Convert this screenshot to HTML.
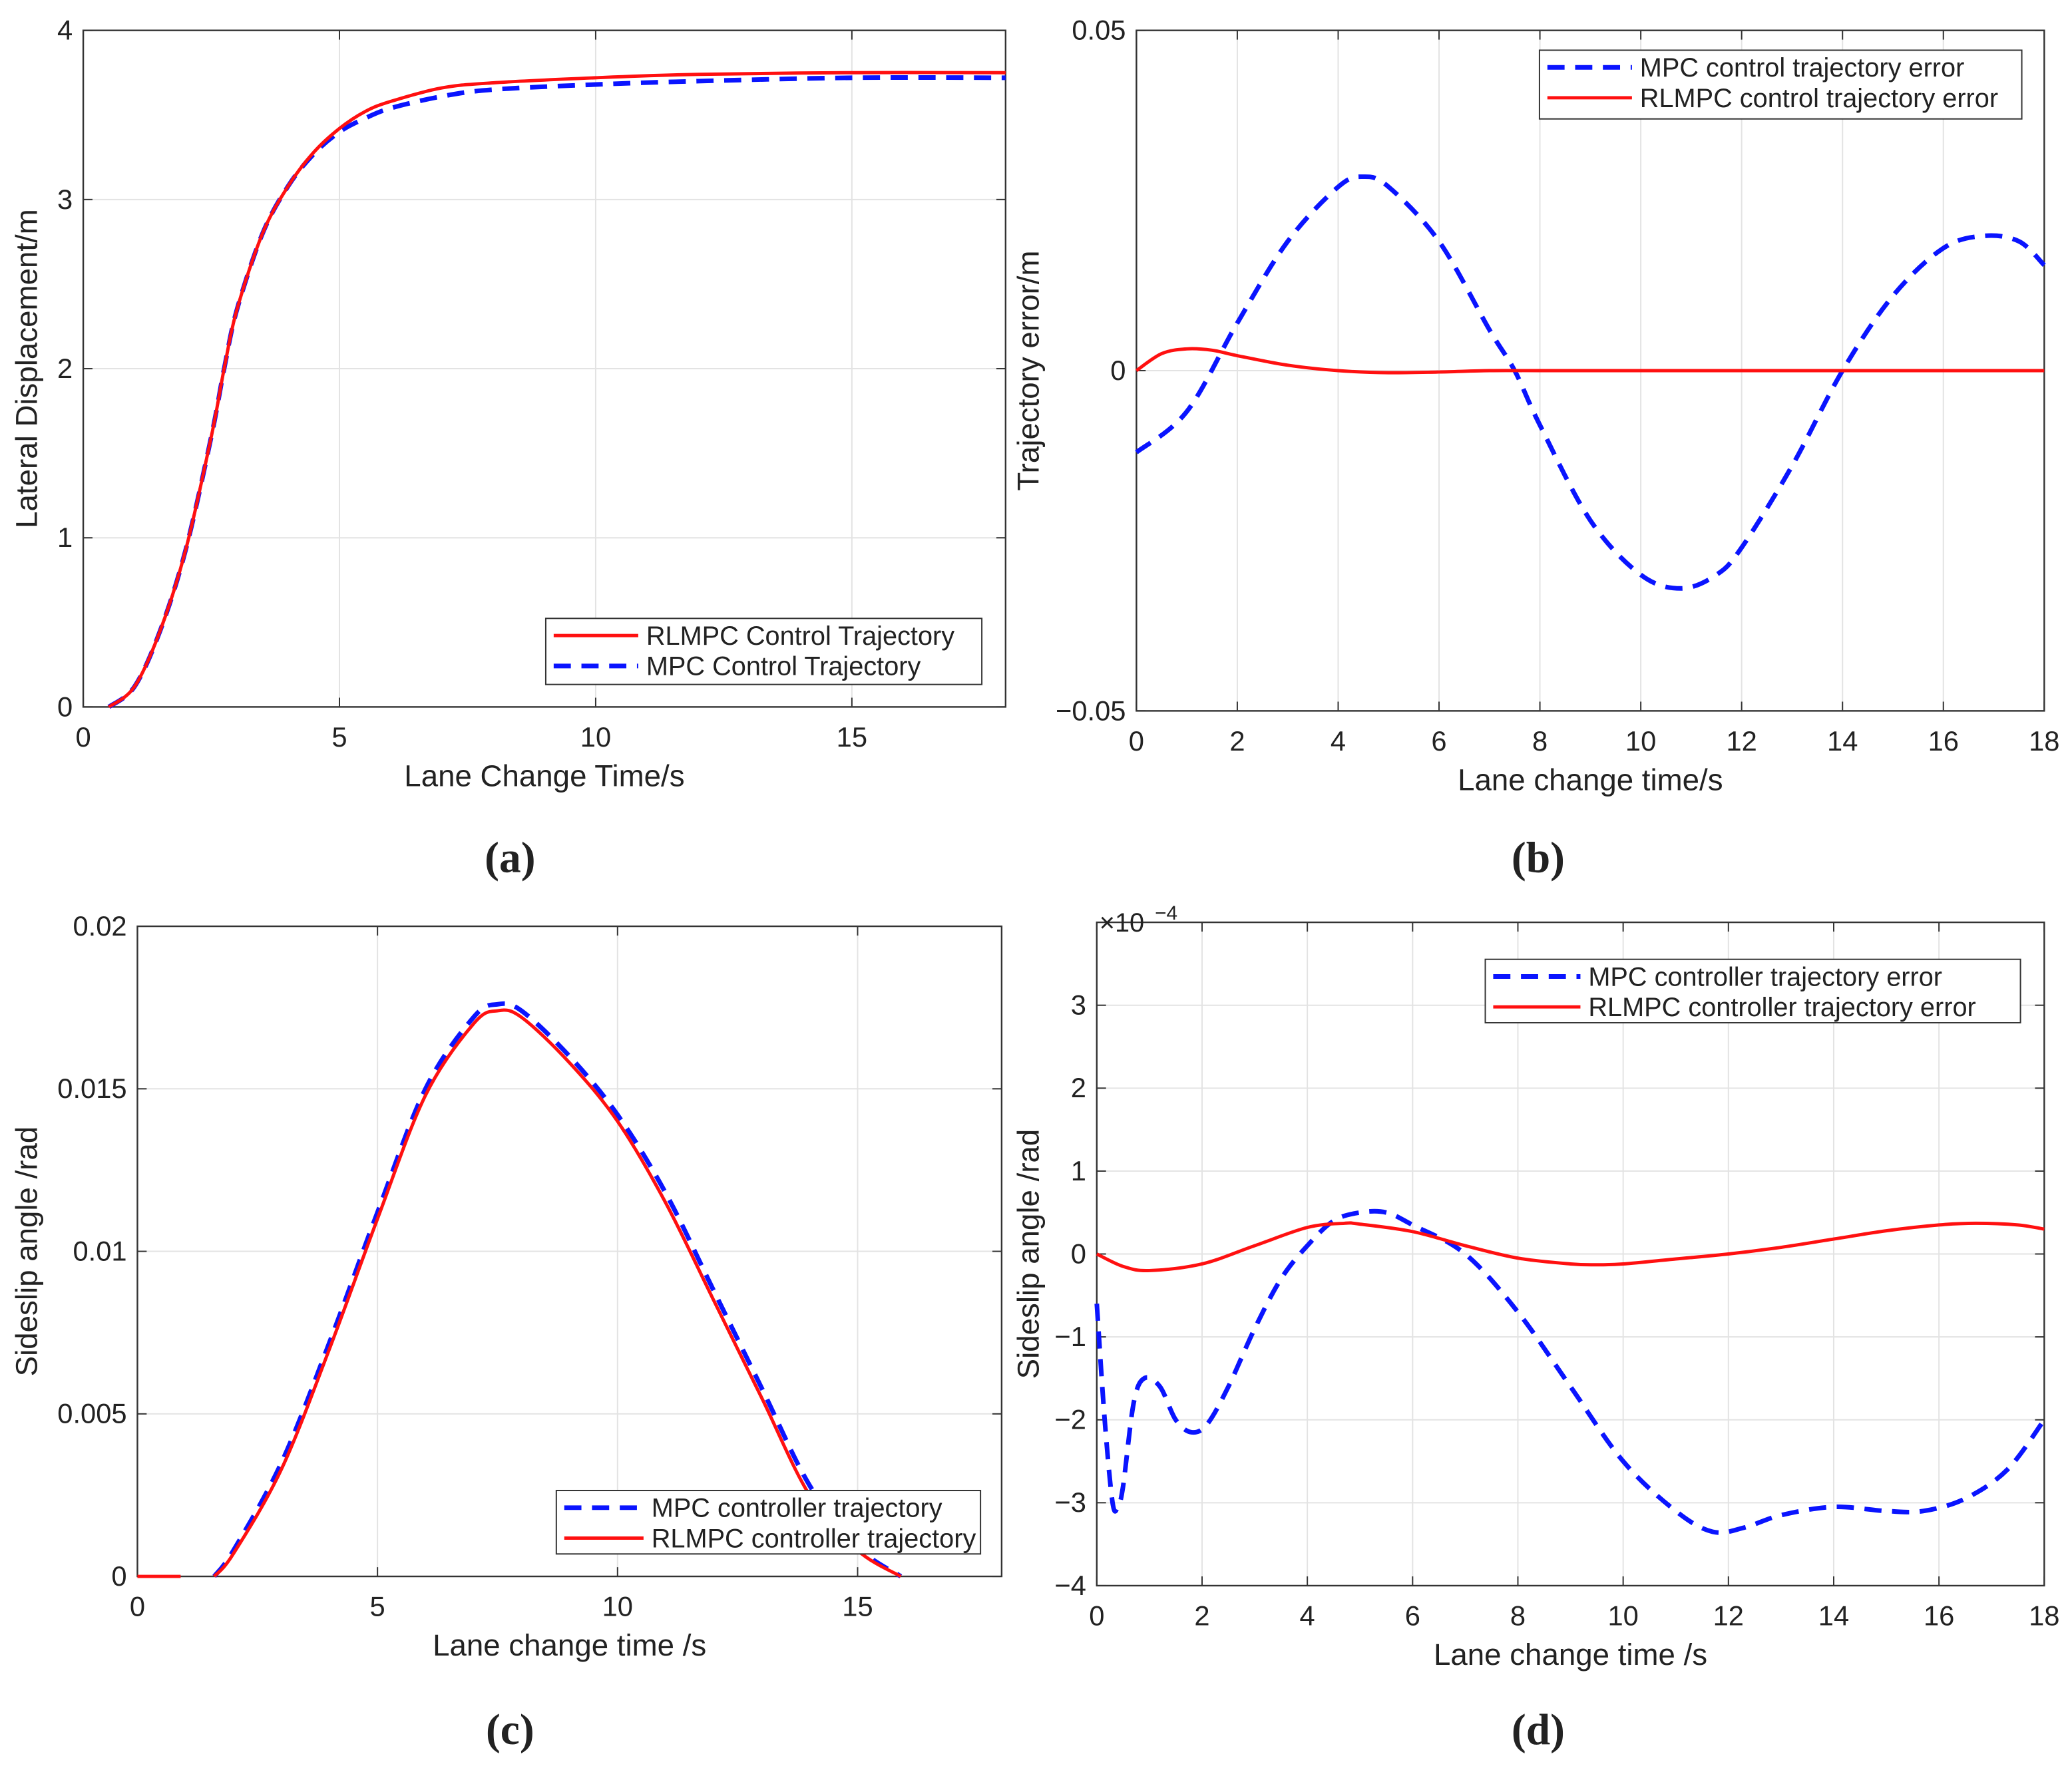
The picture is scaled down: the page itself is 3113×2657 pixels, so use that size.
<!DOCTYPE html>
<html><head><meta charset="utf-8"><style>
html,body{margin:0;padding:0;background:#fff}
svg{display:block}
text{font-family:"Liberation Sans",sans-serif;fill:#222}
</style></head><body>
<svg id="fig" width="3113" height="2657" viewBox="0 0 1568 1338" preserveAspectRatio="none" xmlns="http://www.w3.org/2000/svg"></svg>
<script>
// Panel (a)
const aX=[0.5,1,1.5,2,2.5,2.75,3,3.5,4,4.5,5,5.5,6,7,8,10,12,15,18];
const aRL=[0,0.12,0.45,0.93,1.6,2.0,2.35,2.8,3.08,3.28,3.42,3.52,3.58,3.66,3.69,3.72,3.74,3.75,3.75];
const aMPC=[0,0.12,0.45,0.93,1.6,2.0,2.35,2.8,3.08,3.27,3.4,3.48,3.54,3.61,3.65,3.68,3.7,3.72,3.72];
// Panel (b)
const bXm=[0,1,2,3,4,4.5,5,6,7,7.5,8,9,10,10.8,11.5,12,13,14,15,16,16.8,17.5,18];
const bMPC=[-0.012,-0.006,0.007,0.019,0.027,0.0285,0.027,0.019,0.006,0,-0.008,-0.022,-0.030,-0.032,-0.030,-0.026,-0.014,0,0.011,0.018,0.0198,0.019,0.0155];
const bXr=[0,0.5,1,1.5,2,3,4,5,6,7,8,10,14,18];
const bRL=[0,0.0025,0.0032,0.003,0.0022,0.0008,0,-0.0003,-0.0002,0,0,0,0,0];
// Panel (c)
const cX=[1.6,2,3,4,5,6,7,7.5,8,9,10,11,12,13,14,15,15.9];
const cRL=[0,0.0007,0.0033,0.0070,0.0110,0.0148,0.0170,0.0174,0.0172,0.0158,0.0140,0.0115,0.0085,0.0055,0.0025,0.0008,0];
const cMPC=[0,0.0008,0.0035,0.0072,0.0112,0.0150,0.0172,0.0176,0.0174,0.0160,0.0142,0.0118,0.0088,0.0058,0.0028,0.0009,0];
// Panel (d) (×1e-4)
const dXr=[0,0.5,1,2,3,4,4.7,5,6,7,8,9,9.5,10,11,12,13,14,15,16,16.7,17.5,18];
const dRL=[0,-0.15,-0.2,-0.12,0.1,0.32,0.37,0.36,0.27,0.1,-0.05,-0.12,-0.13,-0.12,-0.06,0,0.08,0.18,0.28,0.35,0.37,0.35,0.3];
const dXm=[0,0.15,0.3,0.4,0.5,0.7,0.9,1.2,1.5,1.8,2.1,2.5,3,3.5,4,4.5,5,5.5,6,7,8,9,10,11,11.7,12.3,13,14,15,15.7,16.5,17.3,18];
const dMPC=[-0.6,-2.0,-3.0,-3.05,-2.8,-1.8,-1.5,-1.6,-2.0,-2.15,-2.05,-1.6,-0.9,-0.3,0.1,0.4,0.5,0.5,0.35,0,-0.7,-1.6,-2.5,-3.1,-3.35,-3.3,-3.15,-3.05,-3.1,-3.1,-2.95,-2.6,-2.0];

const NS="http://www.w3.org/2000/svg";
const svg=document.getElementById('fig');
function mk(tag,at,parent){const e=document.createElementNS(NS,tag);for(const k in at)e.setAttribute(k,at[k]);(parent||svg).appendChild(e);return e;}
function txt(s,at,parent){const e=mk('text',at,parent);e.textContent=s;return e;}
function pathD(pts){
  let d='M'+pts[0][0]+','+pts[0][1];
  for(let i=0;i<pts.length-1;i++){
    const p0=pts[i-1]||pts[i],p1=pts[i],p2=pts[i+1],p3=pts[i+2]||p2;
    const c1x=p1[0]+(p2[0]-p0[0])/6,c1y=p1[1]+(p2[1]-p0[1])/6;
    const c2x=p2[0]-(p3[0]-p1[0])/6,c2y=p2[1]-(p3[1]-p1[1])/6;
    d+=' C'+c1x+','+c1y+' '+c2x+','+c2y+' '+p2[0]+','+p2[1];
  }
  return d;
}
function panel(o){
  const g=mk('g',{});
  
  
  const sx=v=>o.x0+(v-o.xmin)/(o.xmax-o.xmin)*(o.x1-o.x0);
  const sy=v=>o.y0-(v-o.ymin)/(o.ymax-o.ymin)*(o.y0-o.y1);
  o.xt.forEach(v=>{
    const l=mk('line',{x1:sx(v),x2:sx(v),y1:o.y0,y2:o.y1,stroke:'#e3e3e3','stroke-width':1},g);
    
    mk('line',{x1:sx(v),x2:sx(v),y1:o.y0,y2:o.y0-7,stroke:'#333','stroke-width':1},g);
    mk('line',{x1:sx(v),x2:sx(v),y1:o.y1,y2:o.y1+7,stroke:'#333','stroke-width':1},g);
    const t=txt(String(v),{x:sx(v),y:o.y0+30,'font-size':21,'text-anchor':'middle'},g);
    
  });
  o.yt.forEach((v,i)=>{
    const l=mk('line',{x1:o.x0,x2:o.x1,y1:sy(v),y2:sy(v),stroke:'#e3e3e3','stroke-width':1},g);
    
    mk('line',{x1:o.x0,x2:o.x0+7,y1:sy(v),y2:sy(v),stroke:'#333','stroke-width':1},g);
    mk('line',{x1:o.x1,x2:o.x1-7,y1:sy(v),y2:sy(v),stroke:'#333','stroke-width':1},g);
    const t=txt(o.ytl[i],{x:o.x0-8,y:sy(v)+7,'font-size':21,'text-anchor':'end'},g);
    
  });
  const fr=mk('rect',{x:o.x0,y:o.y1,width:o.x1-o.x0,height:o.y0-o.y1,fill:'none',stroke:'#333','stroke-width':1.2},g);
  
  o.series.forEach(s=>{
    const pts=s.x.map((v,i)=>[sx(v),sy(s.y[i])]);
    const p=mk('path',{d:pathD(pts),fill:'none',stroke:s.c,'stroke-width':s.dash?3.5:2.5,'stroke-dasharray':s.dash?'13,8':'none','stroke-linejoin':'round'},g);
    
  });
  const L=o.leg;
  const lg=mk('g',{},g);
  
  mk('rect',{x:L.x,y:L.y,width:L.w,height:L.h,fill:'#fff',stroke:'#333','stroke-width':1},lg);
  L.items.forEach((it,i)=>{
    const yy=L.y+13+i*23;
    mk('line',{x1:L.x+6,x2:L.x+L.lw,y1:yy,y2:yy,stroke:it.c,'stroke-width':it.dash?3.5:2.5,'stroke-dasharray':it.dash?'13,8':'none'},lg);
    const t=txt(it.t,{x:L.x+L.lw+6,y:yy+7,'font-size':20},lg);
    
  });
  const xl=txt(o.xl,{x:(o.x0+o.x1)/2+o.xlo,y:o.y0+60,'font-size':23,'text-anchor':'middle'},g);
  
  const yl=txt(o.yl,{x:0,y:0,'font-size':23,'text-anchor':'middle',transform:'translate('+o.ylx+','+((o.y0+o.y1)/2)+') rotate(-90)'},g);
  
  const pl=txt(o.pl,{x:o.plx,y:o.ply,'font-size':33,'text-anchor':'middle','font-weight':'bold'},g);
  
  pl.style.fontFamily='"Liberation Serif",serif';
  return g;
}
panel({name:'panel-a',x0:63,x1:761,y0:535,y1:23,xmin:0,xmax:18,ymin:0,ymax:4,
  xt:[0,5,10,15],yt:[0,1,2,3,4],ytl:['0','1','2','3','4'],
  series:[{x:aX,y:aMPC,c:'#0a14ff',dash:true,n:'mpc-trajectory-line'},{x:aX,y:aRL,c:'#ff1010',n:'rlmpc-trajectory-line'}],
  leg:{x:413,y:468,w:330,h:50,lw:70,items:[{t:'RLMPC Control Trajectory',c:'#ff1010'},{t:'MPC Control Trajectory',c:'#0a14ff',dash:true}]},
  xl:'Lane Change Time/s',xlo:0,yl:'Lateral Displacement/m',ylx:28,pl:'(a)',plx:386,ply:660});
panel({name:'panel-b',x0:860,x1:1547,y0:538,y1:23,xmin:0,xmax:18,ymin:-0.05,ymax:0.05,
  xt:[0,2,4,6,8,10,12,14,16,18],yt:[-0.05,0,0.05],ytl:['\u22120.05','0','0.05'],
  series:[{x:bXm,y:bMPC,c:'#0a14ff',dash:true,n:'mpc-error-line'},{x:bXr,y:bRL,c:'#ff1010',n:'rlmpc-error-line'}],
  leg:{x:1165,y:38,w:365,h:52,lw:70,items:[{t:'MPC control trajectory error',c:'#0a14ff',dash:true},{t:'RLMPC control trajectory error',c:'#ff1010'}]},
  xl:'Lane change time/s',xlo:0,yl:'Trajectory error/m',ylx:786,pl:'(b)',plx:1164,ply:660});
panel({name:'panel-c',x0:104,x1:758,y0:1193,y1:701,xmin:0,xmax:18,ymin:0,ymax:0.02,
  xt:[0,5,10,15],yt:[0,0.005,0.01,0.015,0.02],ytl:['0','0.005','0.01','0.015','0.02'],
  series:[{x:[0,0.9],y:[0,0],c:'#ff1010',n:'initial-zero-segment'},{x:cX,y:cMPC,c:'#0a14ff',dash:true,n:'mpc-sideslip-line'},{x:cX,y:cRL,c:'#ff1010',n:'rlmpc-sideslip-line'}],
  leg:{x:421,y:1128,w:321,h:48,lw:66,items:[{t:'MPC controller trajectory',c:'#0a14ff',dash:true},{t:'RLMPC controller trajectory',c:'#ff1010'}]},
  xl:'Lane change time /s',xlo:0,yl:'Sideslip angle /rad',ylx:28,pl:'(c)',plx:386,ply:1320});
panel({name:'panel-d',x0:830,x1:1547,y0:1200,y1:698,xmin:0,xmax:18,ymin:-4,ymax:4,
  xt:[0,2,4,6,8,10,12,14,16,18],yt:[-4,-3,-2,-1,0,1,2,3],ytl:['\u22124','\u22123','\u22122','\u22121','0','1','2','3'],
  series:[{x:dXm,y:dMPC,c:'#0a14ff',dash:true,n:'mpc-sideslip-error-line'},{x:dXr,y:dRL,c:'#ff1010',n:'rlmpc-sideslip-error-line'}],
  leg:{x:1124,y:726,w:405,h:48,lw:72,items:[{t:'MPC controller trajectory error',c:'#0a14ff',dash:true},{t:'RLMPC controller trajectory error',c:'#ff1010'}]},
  xl:'Lane change time /s',xlo:0,yl:'Sideslip angle /rad',ylx:786,pl:'(d)',plx:1164,ply:1320});
const ex=txt('\u00d710',{x:832,y:705,'font-size':20});


const ex2=txt('\u22124',{x:874,y:696,'font-size':15});


</script>
</body></html>
